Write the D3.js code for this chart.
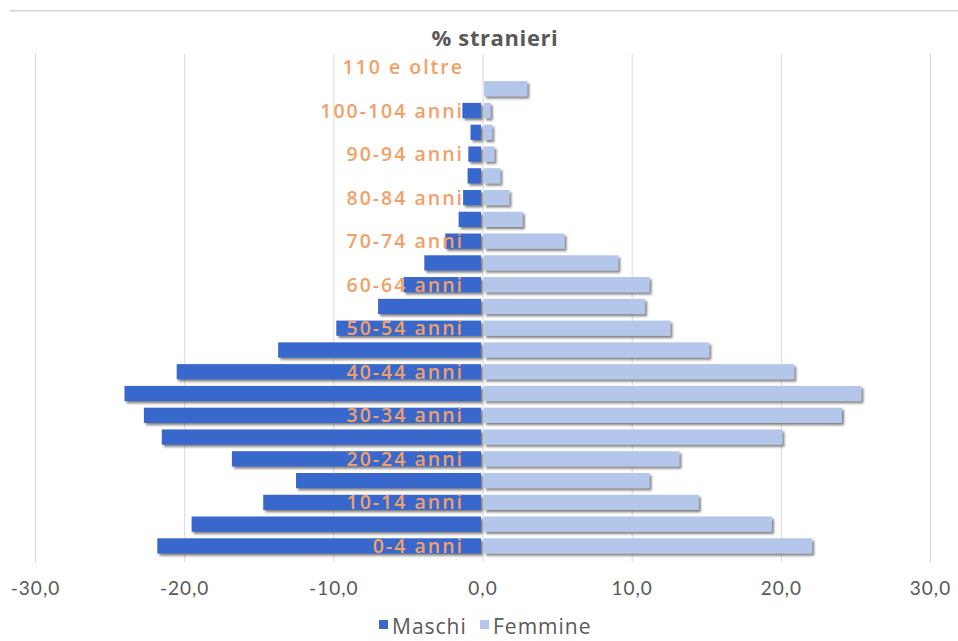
<!DOCTYPE html>
<html>
<head>
<meta charset="utf-8">
<script src="https://cdn.jsdelivr.net/npm/d3@7/dist/d3.min.js"></script>
<style>
  html, body { margin: 0; padding: 0; background: #ffffff; }
  svg { display: block; }
</style>
</head>
<body>
<svg id="chart" width="958" height="641"></svg>
<script>
// Age groups, bottom (youngest) to top (oldest)
const ageGroups = [
  "0-4 anni", "5-9 anni", "10-14 anni", "15-19 anni", "20-24 anni", "25-29 anni",
  "30-34 anni", "35-39 anni", "40-44 anni", "45-49 anni", "50-54 anni", "55-59 anni",
  "60-64 anni", "65-69 anni", "70-74 anni", "75-79 anni", "80-84 anni", "85-89 anni",
  "90-94 anni", "95-99 anni", "100-104 anni", "105-109 anni", "110 e oltre"
];
// Only every other group gets a visible label
const labelledGroups = [
  "0-4 anni", "10-14 anni", "20-24 anni", "30-34 anni", "40-44 anni", "50-54 anni",
  "60-64 anni", "70-74 anni", "80-84 anni", "90-94 anni", "100-104 anni", "110 e oltre"
];
// Share of foreigners (%), males drawn to the left as negative values
const maschi = [
  -21.8, -19.5, -14.7, -12.5, -16.8, -21.5, -22.7, -24.0, -20.5, -13.7, -9.8, -7.0,
  -5.3, -3.9, -2.5, -1.6, -1.3, -1.0, -0.95, -0.8, -1.35, 0, 0
];
const femmine = [
  22.1, 19.4, 14.5, 11.2, 13.2, 20.1, 24.1, 25.4, 20.9, 15.2, 12.6, 10.9,
  11.2, 9.1, 5.5, 2.7, 1.8, 1.2, 0.8, 0.65, 0.55, 3.0, 0
];
const tickValues = [-30, -20, -10, 0, 10, 20, 30];
const seriesNames = ["Maschi", "Femmine"];

const colMaschi = "#3767cb";
const colFemmine = "#b4c6ea";
const textGrey = "#595959";
const labelOrange = "#f3a068";

const svg = d3.select("#chart");

const defs = svg.append("defs");
const shadow = defs.append("filter").attr("id", "barShadow")
  .attr("x", "-5%").attr("y", "-30%").attr("width", "115%").attr("height", "180%");
shadow.append("feDropShadow")
  .attr("dx", 2).attr("dy", 2.2).attr("stdDeviation", 1.1)
  .attr("flood-color", "#404040").attr("flood-opacity", 0.65);

// Thin rule across the top of the panel
svg.append("rect").attr("x", 10).attr("y", 10).attr("width", 948).attr("height", 1.5)
  .attr("fill", "#d4d4d4");

const x = d3.scaleLinear().domain([-30, 30]).range([35, 930]);
const y = d3.scaleBand()
  .domain(ageGroups.slice().reverse())
  .range([56.1, 556.8])
  .paddingInner(0.3)
  .paddingOuter(0.15);

// Vertical gridlines
svg.append("g").selectAll("line").data(tickValues).join("line")
  .attr("x1", d => x(d) + 0.5).attr("x2", d => x(d) + 0.5)
  .attr("y1", 54).attr("y2", 562)
  .attr("stroke", "#d9d9d9").attr("stroke-width", 1);

// Axis tick labels: one decimal, comma separator, plain hyphen for negatives
const axis = d3.axisBottom(x)
  .tickValues(tickValues)
  .tickSize(0)
  .tickFormat(d => d.toFixed(1).replace(".", ","));
const gAxis = svg.append("g").attr("transform", "translate(0,578)").call(axis);
gAxis.select(".domain").remove();
gAxis.selectAll("text")
  .attr("fill", textGrey)
  .attr("font-family", "Lato, 'Open Sans', sans-serif")
  .attr("font-size", 19)
  .attr("letter-spacing", 1)
  .attr("dy", "0.71em");

const rows = ageGroups.map((g, i) => ({ g, m: maschi[i], f: femmine[i] }));

const bars = svg.append("g").attr("filter", "url(#barShadow)");
bars.selectAll("rect.m").data(rows.filter(d => d.m < 0)).join("rect")
  .attr("class", "m")
  .attr("x", d => x(d.m))
  .attr("y", d => y(d.g))
  .attr("width", d => x(0) - 1.5 - x(d.m))
  .attr("height", y.bandwidth())
  .attr("fill", colMaschi);
bars.selectAll("rect.f").data(rows.filter(d => d.f > 0)).join("rect")
  .attr("class", "f")
  .attr("x", x(0) + 1.5)
  .attr("y", d => y(d.g))
  .attr("width", d => x(d.f) - x(0) - 1.5)
  .attr("height", y.bandwidth())
  .attr("fill", colFemmine);

// Age group labels, drawn over the bars
svg.append("g").selectAll("text").data(labelledGroups).join("text")
  .attr("x", 464)
  .attr("y", d => y(d) + y.bandwidth() / 2)
  .attr("dy", "0.36em")
  .attr("text-anchor", "end")
  .attr("fill", labelOrange)
  .attr("font-family", "'Open Sans', sans-serif")
  .attr("font-weight", 600)
  .attr("font-size", 19.5)
  .attr("letter-spacing", 2)
  .text(d => d);

// Title
svg.append("text")
  .attr("x", 495).attr("y", 46)
  .attr("text-anchor", "middle")
  .attr("fill", textGrey)
  .attr("font-family", "'Open Sans', sans-serif")
  .attr("font-weight", 700)
  .attr("font-size", 22)
  .attr("letter-spacing", 0.6)
  .text("% stranieri");

// Legend
const legend = svg.append("g");
const legendItems = [
  { name: seriesNames[0], color: colMaschi, x: 379 },
  { name: seriesNames[1], color: colFemmine, x: 480 }
];
legendItems.forEach(it => {
  legend.append("rect").attr("x", it.x).attr("y", 620).attr("width", 9).attr("height", 9)
    .attr("fill", it.color);
  legend.append("text").attr("x", it.x + 13).attr("y", 634)
    .attr("fill", textGrey)
    .attr("font-family", "'Open Sans', sans-serif")
    .attr("font-size", 21)
    .attr("letter-spacing", 1)
    .text(it.name);
});
</script>
</body>
</html>
